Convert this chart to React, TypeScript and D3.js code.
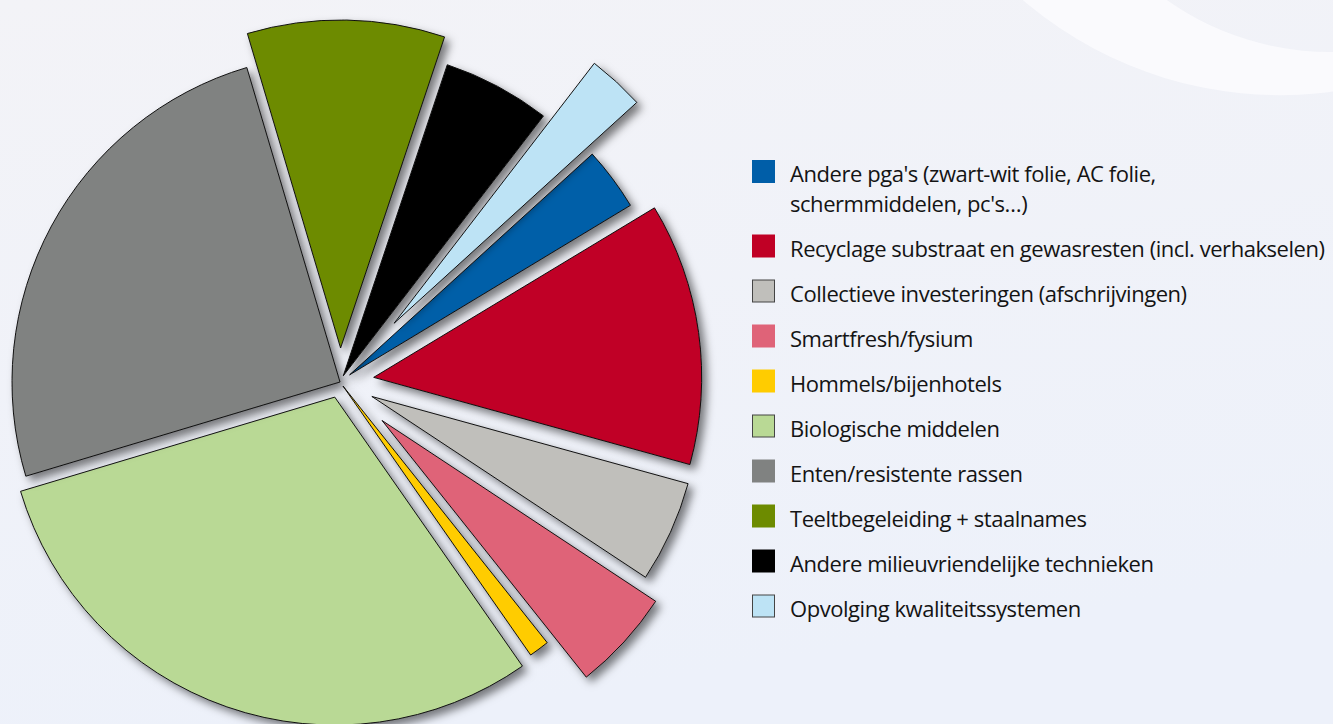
import React from 'react';
import * as d3 from 'd3';

const categories: string[][] = [
  ["Andere pga's (zwart-wit folie, AC folie,", "schermmiddelen, pc's…)"],
  ["Recyclage substraat en gewasresten (incl. verhakselen)"],
  ["Collectieve investeringen (afschrijvingen)"],
  ["Smartfresh/fysium"],
  ["Hommels/bijenhotels"],
  ["Biologische middelen"],
  ["Enten/resistente rassen"],
  ["Teeltbegeleiding + staalnames"],
  ["Andere milieuvriendelijke technieken"],
  ["Opvolging kwaliteitssystemen"],
];

const values: number[] = [3.1, 12.9, 5.0, 5.0, 1.0, 30.0, 25.0, 9.7, 5.3, 2.8];

const colors: string[] = [
  '#005ea8', '#c00025', '#c0bfbb', '#df6378', '#ffcc00',
  '#b9d995', '#808281', '#6d8b00', '#000000', '#bde3f5',
];

const explode: number[] = [12, 34, 35, 57, 5, 16, 0, 34, 7, 80];
const legendBorder: boolean[] = [false, false, true, false, false, true, false, false, false, true];

const W = 1333;
const H = 724;
const CX = 340;
const CY = 382;
const R = 328;
const START = (47.7 * Math.PI) / 180;

export default function App() {
  const pie = d3
    .pie<number>()
    .sort(null)
    .value((d) => d)
    .startAngle(START)
    .endAngle(START + 2 * Math.PI);
  const arcs = pie(values);
  const arc = d3.arc<d3.PieArcDatum<number>>().innerRadius(0).outerRadius(R);

  const legendX = 752;
  const textX = 790;
  let y = 160;
  const rows = categories.map((lines, i) => {
    const row = { y, lines, i };
    y += 45 + (lines.length - 1) * 29.5;
    return row;
  });

  return (
    <svg
      width={W}
      height={H}
      style={{ position: 'fixed', left: 0, top: 0, display: 'block' }}
      fontFamily="'Open Sans', sans-serif"
    >
      <defs>
        <linearGradient id="bg" x1="0" y1="0" x2="0.3" y2="1">
          <stop offset="0" stopColor="#f3f3f7" />
          <stop offset="1" stopColor="#edf1fa" />
        </linearGradient>
        <filter id="shadow" x="-20%" y="-20%" width="140%" height="140%">
          <feDropShadow dx="5" dy="5" stdDeviation="4.5" floodColor="#000" floodOpacity="0.5" />
        </filter>
      </defs>
      <rect width={W} height={H} fill="url(#bg)" />
      <path
        d={`M ${1280 - 395},-300 a 395,395 0 1,0 790,0 a 395,395 0 1,0 -790,0 Z M ${1330 - 282},-230 a 282,282 0 1,0 564,0 a 282,282 0 1,0 -564,0 Z`}
        fill="#fafafd"
        fillRule="evenodd"
      />
      <g transform={`translate(${CX},${CY})`}>
        {arcs.map((a, i) => {
          const mid = (a.startAngle + a.endAngle) / 2;
          const dx = explode[i] * Math.sin(mid);
          const dy = -explode[i] * Math.cos(mid);
          return (
            <path
              key={i}
              d={arc(a) || ''}
              transform={`translate(${dx},${dy})`}
              fill={colors[i]}
              stroke="#111"
              strokeWidth={1}
              strokeLinejoin="round"
              filter="url(#shadow)"
            />
          );
        })}
      </g>
      <g>
        {rows.map((r) => (
          <g key={r.i}>
            <rect
              x={legendX + (legendBorder[r.i] ? 0.5 : 0)}
              y={r.y + (legendBorder[r.i] ? 0.5 : 0)}
              width={legendBorder[r.i] ? 22 : 23}
              height={legendBorder[r.i] ? 22 : 23}
              fill={colors[r.i]}
              stroke={legendBorder[r.i] ? '#444' : 'none'}
              strokeWidth={1}
            />
            {r.lines.map((ln, k) => (
              <text
                key={k}
                x={textX}
                y={r.y + 22 + k * 30}
                fontSize={22}
                letterSpacing={-0.45}
                fill="#141414"
              >
                {ln}
              </text>
            ))}
          </g>
        ))}
      </g>
    </svg>
  );
}
